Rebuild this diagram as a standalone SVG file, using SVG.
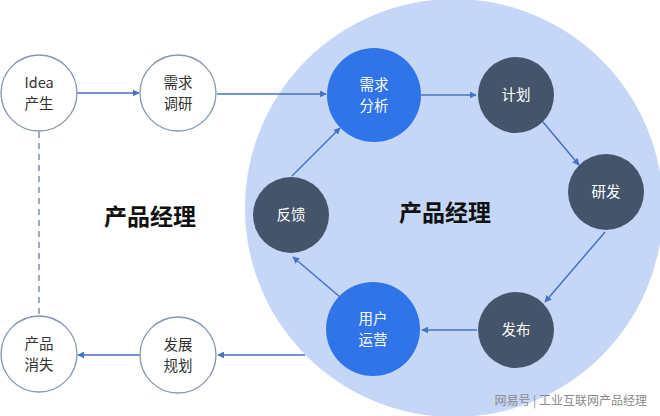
<svg xmlns="http://www.w3.org/2000/svg" width="660" height="416" viewBox="0 0 660 416">
<defs>
<marker id="ah" viewBox="0 0 10 10" refX="9" refY="5" markerWidth="7" markerHeight="7" markerUnits="userSpaceOnUse" orient="auto">
<path d="M0,0 L10,5 L0,10 z" fill="#4472c4"/>
</marker>
<style>
.lbl{font-family:"Noto Sans CJK SC","Liberation Sans",sans-serif;font-size:14.5px;text-anchor:middle}
.w{fill:#ffffff;stroke:#8496b0;stroke-width:1.3}
.b{fill:#2f74e8}
.d{fill:#44546a}
.tw{fill:#ffffff}
.tk{fill:#333333}
.con{stroke:#4472c4;stroke-width:1.5;fill:none;marker-end:url(#ah)}
.title{font-family:"Noto Sans CJK SC",sans-serif;font-size:23px;font-weight:bold;fill:#111111;text-anchor:middle}
</style>
</defs>
<rect width="660" height="416" fill="#ffffff"/>
<g id="connectors-outside">
<line class="con" x1="305" y1="355" x2="218" y2="355"/>
</g>
<circle id="bigcircle" cx="454" cy="208" r="209" fill="#c5d6f6"/>
<g id="connectors">
<line class="con" x1="77" y1="93" x2="139" y2="93"/>
<line class="con" x1="217" y1="94" x2="326" y2="94"/>
<line class="con" x1="421" y1="95" x2="476" y2="95"/>
<line class="con" x1="543" y1="122" x2="579" y2="165"/>
<line class="con" x1="605" y1="232" x2="545" y2="302"/>
<line class="con" x1="477" y1="330" x2="422" y2="330"/>
<line class="con" x1="340" y1="297" x2="293" y2="257"/>
<line class="con" x1="292" y1="176" x2="340" y2="128"/>
<line class="con" x1="140" y1="355" x2="78" y2="355"/>
<line x1="39" y1="132" x2="39" y2="315" stroke="#7f8fa8" stroke-width="1.5" stroke-dasharray="6,5"/>
</g>
<g id="n-idea"><circle class="w" cx="39" cy="93" r="38"/><text class="lbl tk" x="39" y="88">Idea</text><text class="lbl tk" x="39" y="109">产生</text></g>
<g id="n-research"><circle class="w" cx="178" cy="93" r="38"/><text class="lbl tk" x="178" y="88">需求</text><text class="lbl tk" x="178" y="109">调研</text></g>
<g id="n-analysis"><circle class="b" cx="374" cy="95" r="47"/><text class="lbl tw" x="374" y="90">需求</text><text class="lbl tw" x="374" y="111">分析</text></g>
<g id="n-plan"><circle class="d" cx="516" cy="95" r="38"/><text class="lbl tw" x="516" y="100">计划</text></g>
<g id="n-dev"><circle class="d" cx="606" cy="192" r="38"/><text class="lbl tw" x="606" y="197">研发</text></g>
<g id="n-release"><circle class="d" cx="516" cy="330" r="38"/><text class="lbl tw" x="516" y="335">发布</text></g>
<g id="n-ops"><circle class="b" cx="373" cy="329" r="47"/><text class="lbl tw" x="373" y="324">用户</text><text class="lbl tw" x="373" y="345">运营</text></g>
<g id="n-feedback"><circle class="d" cx="291" cy="215" r="38"/><text class="lbl tw" x="291" y="220">反馈</text></g>
<g id="n-growth"><circle class="w" cx="178" cy="355" r="38"/><text class="lbl tk" x="178" y="350">发展</text><text class="lbl tk" x="178" y="371">规划</text></g>
<g id="n-end"><circle class="w" cx="39" cy="354" r="38"/><text class="lbl tk" x="39" y="349">产品</text><text class="lbl tk" x="39" y="370">消失</text></g>
<g id="titles">
<text class="title" x="150" y="225">产品经理</text>
<text class="title" x="445" y="221">产品经理</text>
</g>
<text x="647" y="405" font-family="Noto Sans CJK SC,sans-serif" font-size="12" fill="#8a8a8a" text-anchor="end">网易号 | 工业互联网产品经理</text>
</svg>
